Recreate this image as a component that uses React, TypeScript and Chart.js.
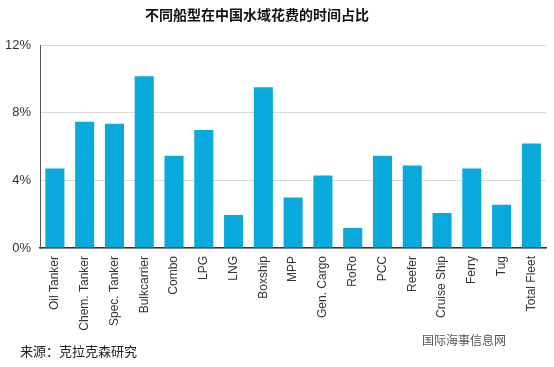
import React, { useEffect, useRef } from "react";
import { Chart, registerables } from "chart.js";

Chart.register(...registerables);

const titleText = "不同船型在中国水域花费的时间占比";
const sourceText = "来源：克拉克森研究";
const watermarkText = "国际海事信息网";

const categories = [
  "Oil Tanker",
  "Chem. Tanker",
  "Spec. Tanker",
  "Bulkcarrier",
  "Combo",
  "LPG",
  "LNG",
  "Boxship",
  "MPP",
  "Gen. Cargo",
  "RoRo",
  "PCC",
  "Reefer",
  "Cruise Ship",
  "Ferry",
  "Tug",
  "Total Fleet",
];

const shareOfTime = [4.7, 7.47, 7.35, 10.15, 5.46, 6.98, 1.95, 9.5, 2.98, 4.28, 1.18, 5.46, 4.87, 2.07, 4.7, 2.56, 6.17];

const yTickValues = [0, 4, 8, 12];

const textPlugin = {
  id: "textPlugin",
  afterDraw(chart: any) {
    const ctx = chart.ctx;
    ctx.save();
    ctx.fillStyle = "#111";
    ctx.textBaseline = "middle";
    ctx.textAlign = "center";
    ctx.font = "bold 14px 'Noto Sans CJK SC'";
    ctx.fillText(titleText, 257, 15);
    ctx.textAlign = "left";
    ctx.font = "13px 'Noto Sans CJK SC'";
    ctx.fillStyle = "#222";
    ctx.fillText(sourceText, 20, 351);
    ctx.font = "12px 'Noto Sans CJK SC'";
    ctx.fillStyle = "#555";
    ctx.fillText(watermarkText, 422, 340);
    ctx.restore();
  },
};

export default function App() {
  const ref = useRef<HTMLCanvasElement>(null);
  useEffect(() => {
    if (!ref.current) return;
    const chart = new Chart(ref.current, {
      type: "bar",
      data: {
        labels: categories,
        datasets: [
          {
            data: shareOfTime,
            backgroundColor: "#09a9dc",
            barPercentage: 0.64,
            categoryPercentage: 1,
          },
        ],
      },
      options: {
        animation: false,
        responsive: true,
        maintainAspectRatio: false,
        layout: { padding: { top: 45, left: 0, right: 7, bottom: 0 } },
        plugins: {
          legend: { display: false },
          title: { display: false },
          tooltip: { enabled: false },
        },
        scales: {
          x: {
            grid: { display: false, drawTicks: false },
            border: { display: true, color: "#333", width: 1.5 },
            ticks: {
              minRotation: 90,
              maxRotation: 90,
              autoSkip: false,
              padding: 8,
              color: "#333",
              font: { family: "'Liberation Sans'", size: 12 },
            },
            afterFit: (scale: any) => {
              scale.height = 119;
            },
          },
          y: {
            min: 0,
            max: 12,
            afterBuildTicks: (scale: any) => {
              scale.ticks = yTickValues.map((v) => ({ value: v }));
            },
            grid: { color: "#d9d9d9", lineWidth: 1, drawTicks: false },
            border: { display: true, color: "#555", width: 1 },
            ticks: {
              padding: 9,
              color: "#333",
              font: { family: "'Liberation Sans'", size: 13 },
              callback: (v: any) => v + "%",
            },
            afterFit: (scale: any) => {
              scale.width = 40;
            },
          },
        },
      },
      plugins: [textPlugin],
    });
    return () => chart.destroy();
  }, []);
  return (
    <div style={{ position: "fixed", left: 0, top: 0, width: 554, height: 367, background: "#fff" }}>
      <canvas ref={ref} />
    </div>
  );
}
